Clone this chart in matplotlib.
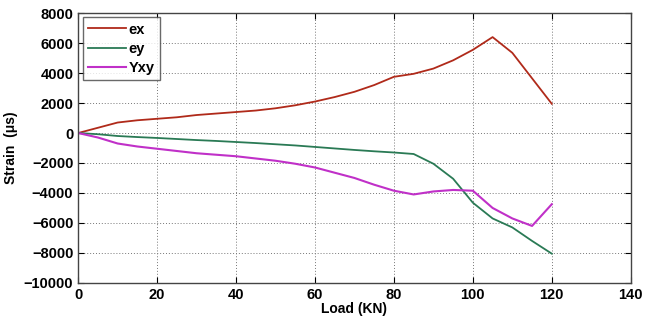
import matplotlib
matplotlib.use("Agg")
import matplotlib.pyplot as plt

load = [0, 5, 10, 15, 20, 25, 30, 35, 40, 45, 50, 55, 60, 65, 70, 75, 80, 85, 90, 95, 100, 105, 110, 115, 120]
ex = [0, 350, 700, 850, 950, 1050, 1200, 1300, 1400, 1500, 1650, 1850, 2100, 2400, 2750, 3200, 3750, 3950, 4300, 4850, 5550, 6400, 5350, 3650, 1950]
ey = [0, -80, -200, -270, -330, -400, -470, -530, -600, -670, -750, -830, -930, -1030, -1130, -1220, -1300, -1400, -2050, -3050, -4650, -5700, -6300, -7200, -8050]
gxy = [0, -300, -700, -900, -1050, -1200, -1350, -1450, -1550, -1700, -1850, -2050, -2300, -2650, -3000, -3450, -3850, -4100, -3900, -3800, -3850, -5000, -5700, -6200, -4750]

plt.rcParams['font.family'] = ['Liberation Sans', 'DejaVu Sans']

fig = plt.figure(figsize=(6.57, 3.2), dpi=100)
ax = fig.add_axes([0.119, 0.116, 0.841, 0.843])

ax.plot(load, ex, color='#b02a1a', lw=1.3, label='ex')
ax.plot(load, ey, color='#2a7a55', lw=1.3, label='ey')
ax.plot(load, gxy, color='#c030c8', lw=1.5, label='Yxy')

ax.set_xlim(0, 140)
ax.set_ylim(-10000, 8000)
ax.set_xticks(range(0, 141, 20))
ax.set_yticks(range(-10000, 8001, 2000))
ax.grid(True, linestyle=(0, (1, 2)), color='#777777', lw=0.7)
ax.tick_params(direction='in', top=True, right=True, length=4, labelsize=10.5)
for lab in ax.get_xticklabels() + ax.get_yticklabels():
    lab.set_fontweight('bold')
for s in ax.spines.values():
    s.set_color('#444444')
    s.set_linewidth(1.0)

ax.set_xlabel('Load (KN)', fontsize=10, fontweight='bold', labelpad=0)
ax.set_ylabel('Strain  (\u03bcs)', fontsize=10, fontweight='bold', labelpad=4)

leg = ax.legend(loc='upper left', frameon=True, fancybox=False, edgecolor='#444444',
                prop={'weight': 'bold', 'size': 10.5}, handlelength=2.6,
                borderaxespad=0.3, labelspacing=0.35, handletextpad=0.2, borderpad=0.35)
leg.get_frame().set_linewidth(1.0)

fig.savefig('out.png', dpi=100)
